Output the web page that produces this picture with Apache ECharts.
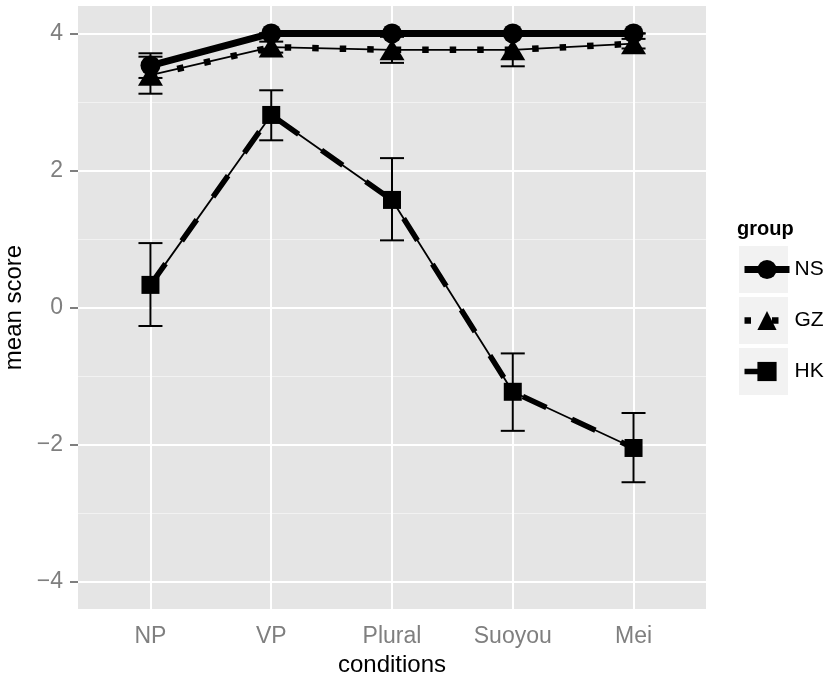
<!DOCTYPE html>
<html><head><meta charset="utf-8">
<script src="https://cdn.jsdelivr.net/npm/echarts@6/dist/echarts.min.js"></script>
<style>html,body{margin:0;padding:0;background:#fff}#c{width:828px;height:673px}</style>
</head><body><div id="c"></div>
<script>
const categories = ['NP', 'VP', 'Plural', 'Suoyou', 'Mei'];
const groups = ['NS', 'GZ', 'HK'];
const nsMean = [3.53, 4.00, 4.00, 4.00, 4.00];
const nsLow  = [3.35, 4.00, 4.00, 4.00, 4.00];
const nsHigh = [3.71, 4.00, 4.00, 4.00, 4.00];
const gzMean = [3.39, 3.80, 3.76, 3.76, 3.85];
const gzLow  = [3.12, 3.72, 3.57, 3.52, 3.78];
const gzHigh = [3.66, 3.88, 3.95, 4.00, 3.92];
const hkMean = [0.33, 2.81, 1.57, -1.23, -2.05];
const hkLow  = [-0.27, 2.44, 0.98, -1.80, -2.55];
const hkHigh = [0.94, 3.17, 2.18, -0.67, -1.54];
const yTicks = [-4, -2, 0, 2, 4];
const yMinor = [-3, -1, 1, 3];
const xPos = categories.map((c, i) => i + 1);

const FONT = '"Liberation Sans", Arial, Helvetica, sans-serif';
const means = [nsMean, gzMean, hkMean];
const lows = [nsLow, gzLow, hkLow];
const highs = [nsHigh, gzHigh, hkHigh];
const styled = [
  {type: 'solid', width: 7, symbol: 'circle', size: 20},
  {type: [6.5, 21], width: 6.5, symbol: 'triangle', size: [25, 21]},
  {type: [26, 28], width: 5.5, symbol: 'rect', size: 18}
];

const series = [];
// gridlines helper
series.push({
  type: 'line', name: '_grid', data: [], z: 1, silent: true,
  markLine: {
    silent: true, symbol: 'none', label: {show: false}, animation: false, z: 1,
    data: [
      ...yMinor.map(v => ({yAxis: v, lineStyle: {color: '#f2f2f2', width: 1, type: 'solid'}})),
      ...yTicks.map(v => ({yAxis: v, lineStyle: {color: '#ffffff', width: 2, type: 'solid'}})),
      ...xPos.map(v => ({xAxis: v, lineStyle: {color: '#ffffff', width: 2, type: 'solid'}}))
    ]
  }
});
groups.forEach((g, gi) => {
  series.push({
    type: 'line', name: g + '_base', z: 2, symbol: 'none', silent: true,
    data: xPos.map((x, i) => [x, means[gi][i]]),
    lineStyle: {color: '#000', width: 1.8}
  });
});
groups.forEach((g, gi) => {
  series.push({
    type: 'custom', name: g + '_err', z: 3, silent: true,
    encode: {x: 0, y: [1, 2]},
    data: xPos.map((x, i) => [x, lows[gi][i], highs[gi][i]]),
    renderItem: function (params, api) {
      const x = api.value(0);
      const pl = api.coord([x, api.value(1)]);
      const ph = api.coord([x, api.value(2)]);
      const hw = 12;
      const st = {stroke: '#000', lineWidth: 2};
      return {type: 'group', children: [
        {type: 'line', shape: {x1: pl[0], y1: pl[1], x2: ph[0], y2: ph[1]}, style: st},
        {type: 'line', shape: {x1: pl[0] - hw, y1: pl[1], x2: pl[0] + hw, y2: pl[1]}, style: st},
        {type: 'line', shape: {x1: ph[0] - hw, y1: ph[1], x2: ph[0] + hw, y2: ph[1]}, style: st}
      ]};
    }
  });
});
groups.forEach((g, gi) => {
  const s = styled[gi];
  series.push({
    type: 'line', name: g, z: 4,
    data: xPos.map((x, i) => [x, means[gi][i]]),
    symbol: s.symbol, symbolSize: s.size, showSymbol: true,
    itemStyle: {color: '#000'},
    lineStyle: {color: '#000', width: s.width, type: s.type, cap: 'butt'}
  });
});

const chart = echarts.init(document.getElementById('c'), null, {renderer: 'canvas'});
chart.setOption({
  animation: false,
  backgroundColor: '#ffffff',
  grid: {left: 78, right: 122, top: 6, bottom: 64, show: true, backgroundColor: '#e5e5e5', borderWidth: 0,
    containLabel: false, outerBoundsMode: 'none'},
  xAxis: {
    type: 'value', min: 0.4, max: 5.6,
    name: 'conditions', nameLocation: 'middle', nameGap: 36,
    nameTextStyle: {color: '#000', fontSize: 24, fontFamily: FONT},
    axisLine: {show: false},
    splitLine: {show: false},
    axisTick: {show: true, customValues: xPos, length: 7, lineStyle: {color: '#7f7f7f', width: 2}},
    axisLabel: {show: true, customValues: xPos, margin: 16, color: '#7f7f7f', fontSize: 23, fontFamily: FONT,
      formatter: v => categories[Math.round(v) - 1] || ''}
  },
  yAxis: {
    type: 'value', min: -4.4, max: 4.4,
    name: 'mean score', nameLocation: 'middle', nameGap: 49, nameRotate: 90,
    nameTextStyle: {color: '#000', fontSize: 24, fontFamily: FONT},
    axisLine: {show: false},
    splitLine: {show: false},
    axisTick: {show: true, customValues: yTicks, length: 8, lineStyle: {color: '#7f7f7f', width: 2}},
    axisLabel: {show: true, customValues: yTicks, margin: 15, color: '#7f7f7f', fontSize: 23, fontFamily: FONT,
      formatter: v => (v < 0 ? '\u2212' + Math.abs(v) : String(v))}
  },
  legend: {
    data: groups.map((g, gi) => ({
      name: g,
      lineStyle: {width: styled[gi].width, type: styled[gi].type, color: '#000', cap: 'butt'},
      itemStyle: {color: '#000'}
    })),
    orient: 'vertical', left: 741, top: 259, z: 10, padding: 0,
    itemWidth: 45, itemHeight: 24, itemGap: 30, selectedMode: false,
    textStyle: {color: '#000', fontSize: 21, fontFamily: FONT}
  },
  graphic: [
    {type: 'text', left: 737, top: 219, z: 5, style: {text: 'group', font: 'bold 20px ' + FONT, fill: '#000'}},
    {type: 'rect', left: 739, top: 246, z: 1, shape: {width: 49, height: 47}, style: {fill: '#f2f2f2'}},
    {type: 'rect', left: 739, top: 297, z: 1, shape: {width: 49, height: 47}, style: {fill: '#f2f2f2'}},
    {type: 'rect', left: 739, top: 348, z: 1, shape: {width: 49, height: 47}, style: {fill: '#f2f2f2'}}
  ],
  series: series
});
</script></body></html>
